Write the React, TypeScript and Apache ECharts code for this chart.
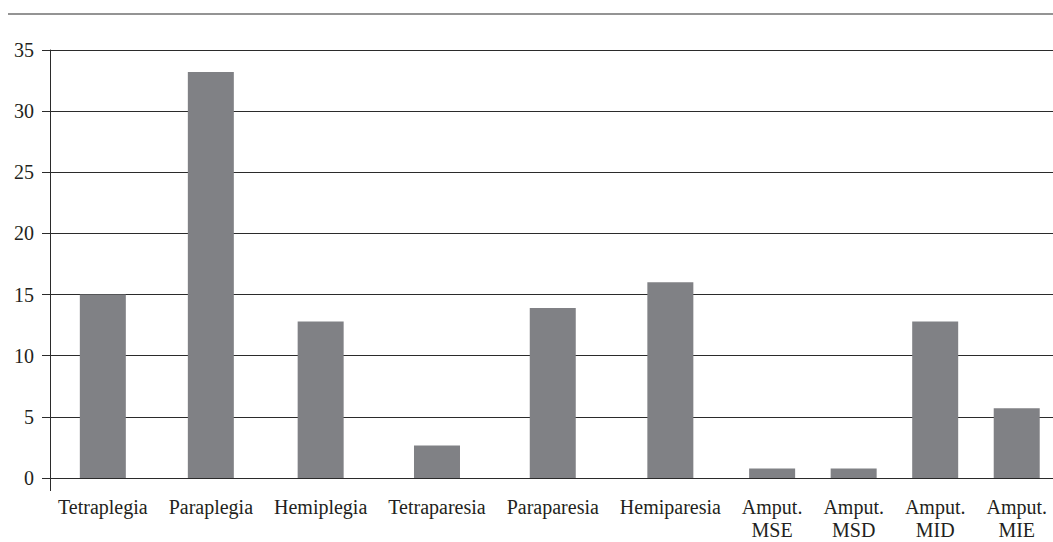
import React, { useEffect, useRef } from "react";
import * as echarts from "echarts";

// Distribution of cases by type of impairment (%)
const categories = [
  "Tetraplegia",
  "Paraplegia",
  "Hemiplegia",
  "Tetraparesia",
  "Paraparesia",
  "Hemiparesia",
  "Amput.\nMSE",
  "Amput.\nMSD",
  "Amput.\nMID",
  "Amput.\nMIE",
];
const values = [15, 33.2, 12.8, 2.65, 13.9, 16, 0.77, 0.77, 12.8, 5.7];
const yMin = 0;
const yMax = 35;
const yStep = 5;

const WIDTH = 1053;
const HEIGHT = 542;
const GRID_LEFT = 50;
const GRID_TOP = 50;
const GRID_BOTTOM = 64;
const FONT = '"Liberation Serif", "Times New Roman", serif';
const FONT_SIZE = 20;
const INK = "#231f20";
const LINE = "#2b2b2b";
const BAR = "#808185";

// Lay the category labels out across the plot width with equal gaps between
// them, so each bar sits under the centre of its own label.
function labelCenters(plotWidth: number): number[] {
  const ctx = document.createElement("canvas").getContext("2d");
  let widths: number[];
  if (ctx) {
    ctx.font = `${FONT_SIZE}px ${FONT}`;
    widths = categories.map((c) =>
      Math.max(...c.split("\n").map((l) => ctx.measureText(l).width))
    );
  } else {
    widths = categories.map((c) => Math.max(...c.split("\n").map((l) => l.length * 9)));
  }
  const start = 8;
  const end = plotWidth - 6;
  const total = widths.reduce((a, b) => a + b, 0);
  const gap = (end - start - total) / (widths.length - 1);
  const centers: number[] = [];
  let x = start;
  widths.forEach((w) => {
    centers.push(x + w / 2);
    x += w + gap;
  });
  return centers;
}

export default function App() {
  const ref = useRef<HTMLDivElement>(null);

  useEffect(() => {
    document.body.style.margin = "0";
    if (!ref.current) return;
    const chart = echarts.init(ref.current, undefined, { renderer: "svg" });
    const plotWidth = WIDTH - GRID_LEFT;
    const centers = labelCenters(plotWidth);

    const nearestIndex = (v: number) => {
      let best = 0;
      centers.forEach((c, i) => {
        if (Math.abs(c - v) < Math.abs(centers[best] - v)) best = i;
      });
      return best;
    };

    chart.setOption({
      animation: false,
      backgroundColor: "#ffffff",
      textStyle: { fontFamily: FONT },
      grid: {
        left: GRID_LEFT,
        right: 0,
        top: GRID_TOP,
        bottom: GRID_BOTTOM,
        containLabel: false,
        outerBoundsMode: "none",
      },
      graphic: [
        {
          type: "line",
          shape: { x1: 8, y1: 14, x2: WIDTH, y2: 14 },
          style: { stroke: LINE, lineWidth: 1.2 },
          silent: true,
        },
      ],
      xAxis: {
        type: "value",
        min: 0,
        max: plotWidth,
        splitLine: { show: false },
        axisLine: { show: true, onZero: false, lineStyle: { color: LINE, width: 1 } },
        axisTick: {
          show: true,
          customValues: [0],
          length: 13,
          inside: false,
          lineStyle: { color: LINE, width: 1 },
        },
        axisLabel: {
          show: true,
          customValues: centers,
          margin: 17,
          fontFamily: FONT,
          fontSize: FONT_SIZE,
          lineHeight: 23,
          color: INK,
          align: "center",
          hideOverlap: false,
          formatter: (v: number) => categories[nearestIndex(v)],
        },
      },
      yAxis: {
        type: "value",
        min: yMin,
        max: yMax,
        interval: yStep,
        axisLine: { show: true, lineStyle: { color: LINE, width: 1 } },
        axisTick: { show: true, length: 8, inside: false, lineStyle: { color: LINE, width: 1 } },
        axisLabel: {
          margin: 16,
          fontFamily: FONT,
          fontSize: FONT_SIZE,
          color: INK,
        },
        splitLine: { show: true, lineStyle: { color: LINE, width: 1 } },
      },
      series: [
        {
          type: "bar",
          data: values.map((v, i) => [centers[i], v]),
          barWidth: 46,
          itemStyle: { color: BAR },
          silent: true,
        },
      ],
    });

    return () => chart.dispose();
  }, []);

  return <div ref={ref} style={{ width: WIDTH, height: HEIGHT }} />;
}
